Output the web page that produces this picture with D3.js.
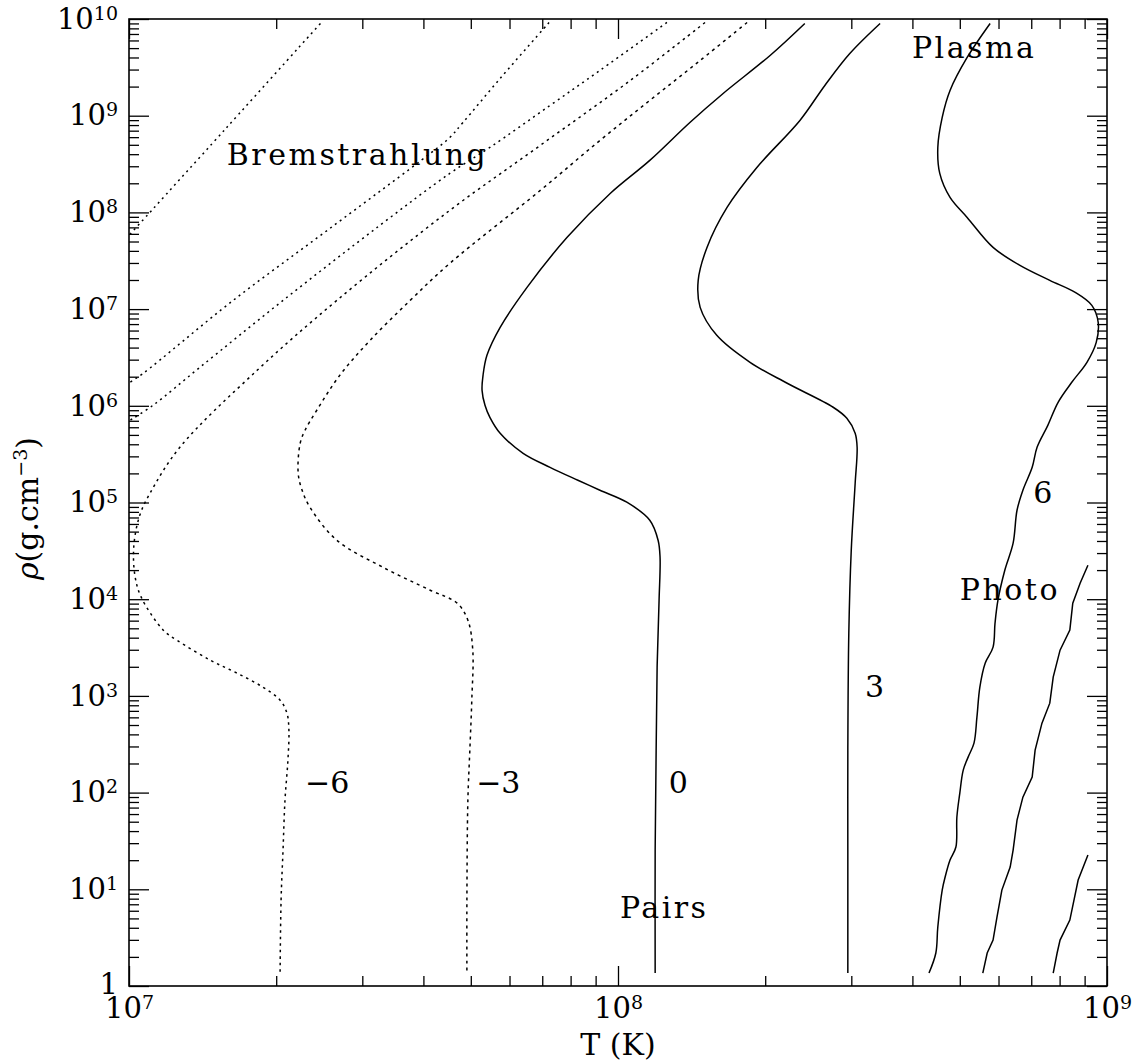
<!DOCTYPE html>
<html>
<head>
<meta charset="utf-8">
<script src="https://cdn.jsdelivr.net/npm/d3@7"></script>
<style>
  body { margin: 0; background: #fff; }
  svg { display: block; font-family: "DejaVu Serif", serif; }
</style>
</head>
<body>
<div id="chart"></div>
<script>
// all curves are [log10 T (K), log10 rho (g cm^-3)]

// bremsstrahlung iso-lines (dotted)
let brems_a = [[7.002, 7.773], [7.198, 8.868], [7.395, 9.974]];
let brems_b = [[7.859, 9.964], [7.759, 9.385], [7.683, 8.930], [7.656, 8.775], [7.616, 8.610],
               [7.411, 7.835], [7.213, 7.090], [7.029, 6.336], [7.002, 6.243]];
let brems_c = [[8.100, 9.964], [7.963, 9.468], [7.861, 9.106], [7.738, 8.672], [7.656, 8.403],
               [7.513, 7.866], [7.315, 7.090], [7.145, 6.398], [7.049, 6.005], [7.002, 5.850]];

// log10 of total neutrino loss rate contours
let level_m6 = [[8.178, 9.964], [8.025, 9.364], [7.841, 8.693], [7.656, 8.021], [7.425, 7.090],
                [7.262, 6.367], [7.104, 5.571], [7.043, 5.096], [7.022, 4.868], [7.010, 4.558],
                [7.012, 4.248], [7.025, 4.021], [7.070, 3.680], [7.098, 3.576], [7.166, 3.370],
                [7.221, 3.235], [7.274, 3.090], [7.309, 2.956], [7.323, 2.822], [7.327, 2.646],
                [7.325, 2.336], [7.319, 1.923], [7.315, 1.406], [7.311, 0.889], [7.309, 0.145]];
let level_m3 = [[8.264, 9.964], [8.168, 9.571], [8.065, 9.158], [7.963, 8.744], [7.841, 8.227],
                [7.656, 7.473], [7.575, 7.090], [7.493, 6.677], [7.431, 6.315], [7.384, 5.954],
                [7.360, 5.747], [7.350, 5.612], [7.346, 5.302], [7.354, 5.127], [7.370, 4.951],
                [7.425, 4.610], [7.519, 4.331], [7.616, 4.093], [7.671, 3.959], [7.693, 3.783],
                [7.703, 3.473], [7.701, 2.956], [7.697, 2.439], [7.693, 1.923], [7.691, 0.889],
                [7.691, 0.134]];
let level_0 = [[8.382, 9.954], [8.311, 9.623], [8.215, 9.230], [8.147, 8.930], [8.065, 8.538],
               [7.984, 8.196], [7.896, 7.742], [7.814, 7.225], [7.759, 6.811], [7.732, 6.522],
               [7.724, 6.315], [7.722, 6.160], [7.728, 6.005], [7.738, 5.881], [7.759, 5.716],
               [7.806, 5.509], [7.861, 5.364], [7.918, 5.230], [7.963, 5.127], [8.018, 5.003],
               [8.065, 4.817], [8.082, 4.610], [8.086, 4.434], [8.084, 3.990], [8.080, 3.297],
               [8.078, 2.439], [8.076, 1.406], [8.076, 0.134]];
let level_3 = [[8.536, 9.954], [8.474, 9.643], [8.423, 9.313], [8.372, 8.951], [8.284, 8.465],
               [8.223, 8.052], [8.182, 7.638], [8.164, 7.297], [8.168, 7.018], [8.202, 6.729],
               [8.270, 6.450], [8.346, 6.233], [8.440, 5.985], [8.468, 5.871], [8.485, 5.716],
               [8.489, 5.571], [8.485, 5.199], [8.477, 4.506], [8.472, 3.649], [8.470, 2.439],
               [8.470, 1.406], [8.470, 0.134]];
let level_6 = [[8.761, 9.954], [8.714, 9.602], [8.679, 9.261], [8.663, 8.982], [8.654, 8.672],
               [8.658, 8.403], [8.679, 8.155], [8.714, 7.948], [8.767, 7.638], [8.822, 7.452],
               [8.883, 7.297], [8.935, 7.173], [8.969, 7.039], [8.982, 6.863], [8.978, 6.656],
               [8.959, 6.450], [8.928, 6.243], [8.900, 6.036], [8.879, 5.798], [8.857, 5.571],
               [8.847, 5.364],
               [8.828, 5.127], [8.816, 4.920], [8.808, 4.579], [8.791, 4.300], [8.777, 3.990],
               [8.771, 3.752], [8.767, 3.504], [8.751, 3.339], [8.740, 3.090], [8.734, 2.780],
               [8.728, 2.512], [8.716, 2.367], [8.706, 2.233], [8.699, 1.995], [8.693, 1.747],
               [8.691, 1.437], [8.679, 1.302], [8.669, 1.127], [8.663, 0.992], [8.654, 0.610],
               [8.650, 0.341], [8.636, 0.134]];
let level_9 = [[8.961, 4.351], [8.945, 4.165], [8.930, 3.959], [8.924, 3.680], [8.904, 3.473],
               [8.890, 3.194], [8.883, 2.925], [8.867, 2.718], [8.853, 2.439], [8.847, 2.160],
               [8.828, 1.953], [8.816, 1.716], [8.808, 1.406], [8.802, 1.230], [8.785, 0.992],
               [8.775, 0.713], [8.767, 0.475], [8.755, 0.341], [8.746, 0.134]];
let level_12 = [[8.961, 1.354], [8.941, 1.096], [8.924, 0.682], [8.904, 0.475], [8.898, 0.341],
                [8.890, 0.134]];

// text annotations: [text, log10 T, log10 rho]
let annotations = [
    ["Bremstrahlung", 7.200, 8.486],
    ["Plasma", 8.601, 9.592],
    ["Photo", 8.699, 3.990],
    ["Pairs", 8.004, 0.703],
    ["\u22126", 7.360, 1.995],
    ["\u22123", 7.710, 1.995],
    ["0", 8.104, 1.995],
    ["3", 8.505, 2.987],
    ["6", 8.849, 4.992]
];

let t_decades = [7, 9];
let rho_decades = [0, 10];

let margins = { top: 19, left: 129, right: 32, bottom: 76 };
let dims = { width: 1139 - 129 - 32, height: 1062 - 19 - 76 };

let svg = d3.select("#chart")
    .append("svg")
        .attr("width", 1139)
        .attr("height", 1062)
    .append("g")
        .attr("transform", "translate(" + margins.left + "," + margins.top + ")");

let x = d3.scaleLog().domain([10 ** t_decades[0], 10 ** t_decades[1]]).range([0, dims.width]);
let y = d3.scaleLog().domain([10 ** rho_decades[0], 10 ** rho_decades[1]]).range([dims.height, 0]);

function majors(d) { return d3.range(d[0], d[1] + 1).map(e => 10 ** e); }
function minors(d) { return d3.range(d[0], d[1]).flatMap(e => d3.range(2, 10).map(k => k * 10 ** e)); }

// replace "1e8" style labels with 10 + superscript
function power_labels(g) {
    g.selectAll(".tick text").each(function (d) {
        let e = Math.round(Math.log10(d));
        let t = d3.select(this).text(null);
        if (e === 0) { t.text("1").attr("dy", "0.26em"); return; }
        t.append("tspan").text("10");
        t.append("tspan").attr("font-size", 19).attr("dy", -9).text(e);
    });
}

function axis_group(axis, transform) {
    let g = svg.append("g")
        .attr("transform", transform)
        .call(axis)
        .attr("font-family", "DejaVu Serif, serif")
        .attr("font-size", 29);
    g.select(".domain").remove();
    g.selectAll(".tick line").attr("stroke-width", 1.3);
    return g;
}

// bottom / left: major with labels, minor without
axis_group(d3.axisBottom(x).tickValues(majors(t_decades)).tickSize(-20).tickPadding(11), "translate(0," + dims.height + ")")
    .call(power_labels);
axis_group(d3.axisBottom(x).tickValues(minors(t_decades)).tickSize(-10).tickFormat(""), "translate(0," + dims.height + ")");
axis_group(d3.axisLeft(y).tickValues(majors(rho_decades)).tickSize(-20).tickPadding(11), "translate(0,0)")
    .call(power_labels);
axis_group(d3.axisLeft(y).tickValues(minors(rho_decades)).tickSize(-10).tickFormat(""), "translate(0,0)");

// mirrored ticks on top / right
axis_group(d3.axisTop(x).tickValues(majors(t_decades)).tickSize(-20).tickFormat(""), "translate(0,0)");
axis_group(d3.axisTop(x).tickValues(minors(t_decades)).tickSize(-10).tickFormat(""), "translate(0,0)");
axis_group(d3.axisRight(y).tickValues(majors(rho_decades)).tickSize(-20).tickFormat(""), "translate(" + dims.width + ",0)");
axis_group(d3.axisRight(y).tickValues(minors(rho_decades)).tickSize(-10).tickFormat(""), "translate(" + dims.width + ",0)");

svg.append("rect")
    .attr("width", dims.width)
    .attr("height", dims.height)
    .attr("fill", "none")
    .attr("stroke", "#000")
    .attr("stroke-width", 1.6);

svg.append("clipPath").attr("id", "plot-clip")
    .append("rect").attr("width", dims.width).attr("height", dims.height);

let smooth = d3.line()
    .x(d => x(10 ** d[0]))
    .y(d => y(10 ** d[1]))
    .curve(d3.curveCatmullRom.alpha(0.5));

let jagged = d3.line()
    .x(d => x(10 ** d[0]))
    .y(d => y(10 ** d[1]));

let curves = [
    { pts: brems_a, line: smooth, dash: "2,4" },
    { pts: brems_b, line: smooth, dash: "2,4" },
    { pts: brems_c, line: smooth, dash: "2,4" },
    { pts: level_m6, line: smooth, dash: "2.5,4" },
    { pts: level_m3, line: smooth, dash: "3,4" },
    { pts: level_0, line: smooth, dash: null },
    { pts: level_3, line: smooth, dash: null },
    { pts: level_6, line: smooth, dash: null },
    { pts: level_9, line: jagged, dash: null },
    { pts: level_12, line: jagged, dash: null }
];

svg.append("g")
    .attr("clip-path", "url(#plot-clip)")
    .selectAll("path")
    .data(curves)
    .enter()
    .append("path")
        .attr("d", c => c.line(c.pts))
        .attr("fill", "none")
        .attr("stroke", "#000")
        .attr("stroke-width", 1.5)
        .attr("stroke-dasharray", c => c.dash);

svg.append("g")
    .selectAll("text")
    .data(annotations)
    .enter()
    .append("text")
        .attr("x", d => x(10 ** d[1]))
        .attr("y", d => y(10 ** d[2]))
        .attr("font-size", 30)
        .attr("letter-spacing", d => d[0].length > 2 ? 2.5 : 0)
        .text(d => d[0]);

// axis titles
svg.append("text")
    .attr("x", dims.width / 2)
    .attr("y", dims.height + 69)
    .attr("text-anchor", "middle")
    .attr("font-size", 30)
    .text("T (K)");

let ylab = svg.append("text")
    .attr("transform", "translate(" + (38 - margins.left) + "," + (dims.height / 2 + 6) + ") rotate(-90)")
    .attr("text-anchor", "middle")
    .attr("font-size", 30);
ylab.append("tspan").attr("font-style", "italic").text("\u03c1");
ylab.append("tspan").text("(g.cm");
ylab.append("tspan").attr("font-size", 19).attr("dy", -11).text("\u22123");
ylab.append("tspan").attr("dy", 11).text(")");
</script>
</body>
</html>
